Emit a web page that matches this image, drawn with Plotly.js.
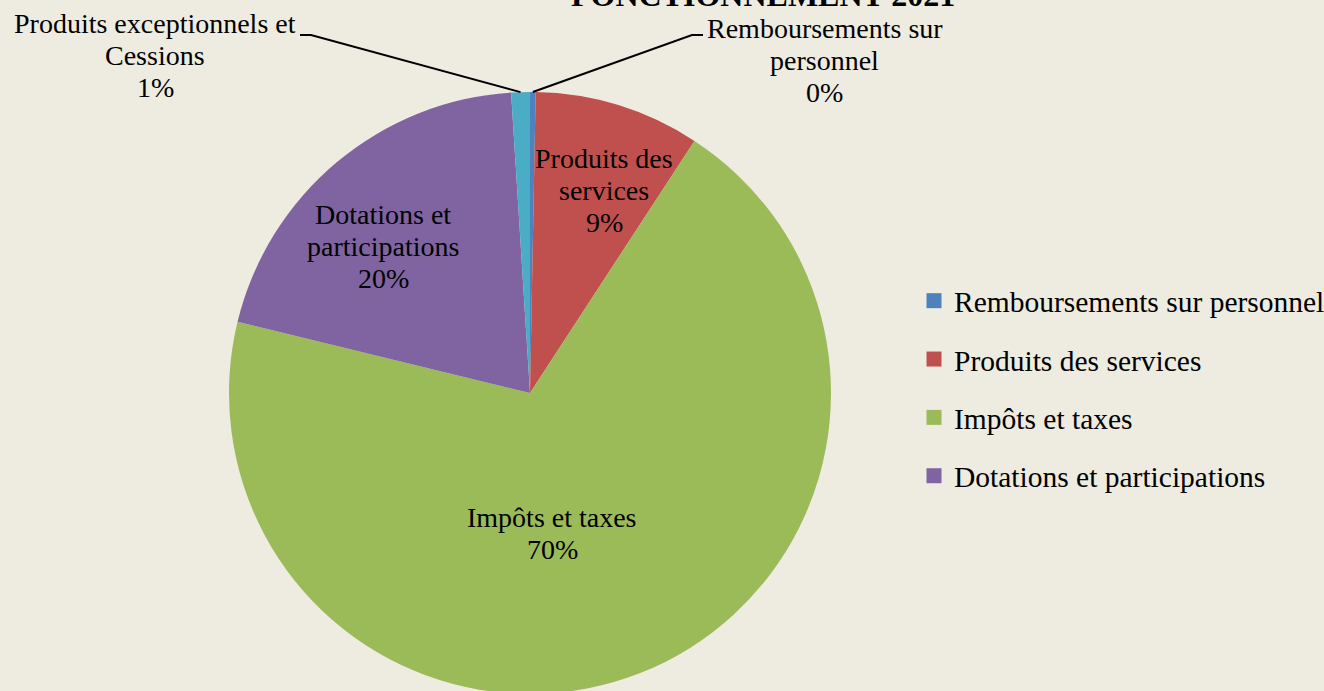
<!DOCTYPE html>
<html>
<head>
<meta charset="utf-8">
<script src="https://cdn.plot.ly/plotly-3.0.1.min.js"></script>
<style>
html,body{margin:0;padding:0;overflow:hidden;background:#EEECE1;}
#chart{width:1360px;height:700px;}
</style>
</head>
<body>
<div id="chart"></div>
<script>
// ---- data ----
const categories = ["Remboursements sur personnel", "Produits des services", "Impôts et taxes", "Dotations et participations", "Produits exceptionnels et Cessions"];
const values = [0.3, 8.9, 69.6, 20.2, 1.0];
const colors = ["#4F81BD", "#C0504D", "#9BBB59", "#8064A2", "#4BACC6"];
const labelLines = [
  ["Remboursements sur", "personnel"],
  ["Produits des", "services"],
  ["Impôts et taxes"],
  ["Dotations et", "participations"],
  ["Produits exceptionnels et", "Cessions"]
];
const legendCategories = categories.slice(0, 4);
const titleText = "FONCTIONNEMENT 2021";

// ---- layout helpers ----
const W = 1360, H = 700;
const px = x => x / W;
const py = y => (H - y) / H;
const FONT = "Liberation Serif, Times New Roman, serif";
const cx = 530, cy = 393, R = 301;

// label block centres (pixels) and leader elbows
const labelPos = [
  {x: 825, y: 60, elbow: [[692, 35], [703, 35]]},
  {x: 604, y: 190},
  {x: 552, y: 533},
  {x: 383, y: 246},
  {x: 155, y: 56, elbow: [[311, 35], [300, 35]]}
];
const lineGap = 32;

const total = values.reduce((a, b) => a + b, 0);
const annotations = [];
const shapes = [];
let cum = 0;
values.forEach((v, i) => {
  const mid = (cum + v / 2) / total * 2 * Math.PI;
  cum += v;
  const lines = labelLines[i].concat([Math.round(v / total * 100) + "%"]);
  const p = labelPos[i];
  lines.forEach((t, k) => {
    const yy = p.y + (k - (lines.length - 1) / 2) * lineGap;
    annotations.push({
      xref: "paper", yref: "paper", x: px(p.x), y: py(yy),
      xanchor: "center", yanchor: "middle", showarrow: false,
      text: t, font: {family: FONT, size: 28, color: "#000"}
    });
  });
  if (p.elbow) {
    const sx = cx + R * Math.sin(mid), sy = cy - R * Math.cos(mid);
    const pts = [[sx, sy]].concat(p.elbow);
    const path = pts.map((q, j) => (j ? "L" : "M") + px(q[0]) + "," + py(q[1])).join(" ");
    shapes.push({type: "path", xref: "paper", yref: "paper", path: path,
      line: {color: "#000", width: 2}});
  }
});

annotations.push({
  xref: "paper", yref: "paper", x: px(763), y: py(-5),
  xanchor: "center", yanchor: "middle", showarrow: false,
  text: "<b>" + titleText + "</b>", font: {family: FONT, size: 32, color: "#000"}
});

const traces = [{
  type: "pie",
  labels: categories,
  values: values,
  sort: false,
  direction: "clockwise",
  rotation: 0,
  marker: {colors: colors, line: {width: 0}},
  textinfo: "none",
  hoverinfo: "label+percent",
  showlegend: false,
  domain: {x: [px(cx - R), px(cx + R)], y: [py(cy + R), py(cy - R)]}
}];

legendCategories.forEach((c, i) => {
  traces.push({
    type: "scatter", mode: "markers", x: [null], y: [null],
    name: c, legendgroup: "g" + i,
    marker: {symbol: "square", size: 15, color: colors[i]},
    hoverinfo: "skip"
  });
});

const layout = {
  width: W, height: H,
  margin: {l: 0, r: 0, t: 0, b: 0},
  paper_bgcolor: "#EEECE1",
  plot_bgcolor: "#EEECE1",
  xaxis: {visible: false, domain: [0.99, 1]},
  yaxis: {visible: false, domain: [0.99, 1]},
  showlegend: true,
  legend: {
    x: px(914), y: py(275), xanchor: "left", yanchor: "top",
    bgcolor: "rgba(0,0,0,0)",
    font: {family: FONT, size: 29.5, color: "#000"},
    traceorder: "grouped", tracegroupgap: 17,
    itemclick: false, itemdoubleclick: false
  },
  annotations: annotations,
  shapes: shapes
};

Plotly.newPlot("chart", traces, layout, {displayModeBar: false, staticPlot: true});
</script>
</body>
</html>
